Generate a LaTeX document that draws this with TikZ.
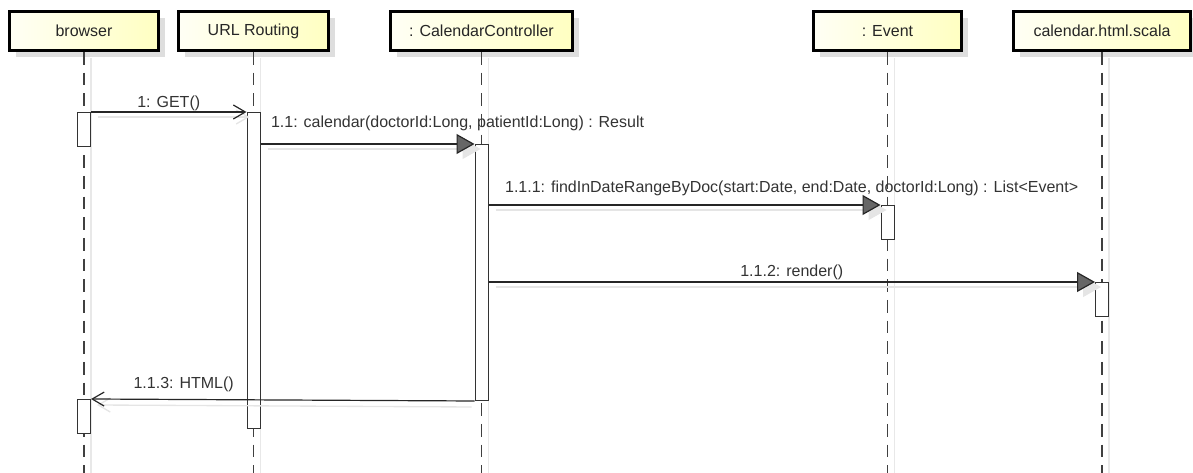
\documentclass[tikz,border=0pt]{standalone}
\usepackage{fontspec}
\setmainfont{Liberation Sans}
\usetikzlibrary{arrows.meta,shadows}

\begin{document}
\begin{tikzpicture}[x=0.75pt,y=-0.75pt,
  head/.style={draw=black, line width=2.25pt, left color=yellow!4, right color=yellow!24,
    minimum height=29.25pt, inner sep=0pt, text=black!85, font=\fontsize{12}{14}\selectfont,
    drop shadow={shadow xshift=4.5pt, shadow yshift=-5.25pt, fill=black!13, opacity=1}},
  lifeline/.style={draw=black!75, line width=1.1pt, dash pattern=on 9.5pt off 6pt},
  lifeshadow/.style={draw=black!9, line width=1pt},
  actbar/.style={draw=black!80, fill=white, line width=0.75pt, minimum width=9.75pt, inner sep=0pt, anchor=north},
  msg/.style={draw=black!85, line width=0.9pt},
  call/.style={msg, -{Triangle[length=13.5pt, width=15pt, fill=black!60]}},
  reply/.style={msg, -{Straight Barb[length=9pt, width=10.5pt]}},
  msgshadow/.style={draw=black!10, line width=1pt},
  msglabel/.style={text=black!80, font=\fontsize{12}{14}\selectfont, inner sep=0pt}]
\useasboundingbox (0,0) rectangle (1193,473);
\coordinate (bottom) at (0,473);

% Lifeline heads
\node[head, minimum width=111.75pt] (browser) at (84,31) {browser};
\node[head, minimum width=112.5pt] (routing) at (253.5,31) {URL Routing};
\node[head, minimum width=136.5pt] (ctrl) at (481.5,31) {: CalendarController};
\node[head, minimum width=111pt] (event) at (887.5,31) {: Event};
\node[head, minimum width=132.75pt] (view) at (1102,31) {calendar.html.scala};

% Lifelines
\foreach \h in {browser,routing,ctrl,event,view} {
  \draw[lifeshadow] ([shift={(7,6)}]\h.south) -- ([xshift=5.25pt]\h.south |- bottom);
  \draw[lifeline] (\h.south) -- (\h.south |- bottom);
}

% Activation bars
\node[actbar, minimum height=25.5pt] (brw1) at (browser.south |- 0,112) {};
\node[actbar, minimum height=237pt] (rt1) at (routing.south |- 0,112) {};
\node[actbar, minimum height=192pt] (cc1) at (ctrl.south |- 0,144) {};
\node[actbar, minimum height=25.5pt] (ev1) at (event.south |- 0,205) {};
\node[actbar, minimum height=25.5pt] (vw1) at (view.south |- 0,282) {};
\node[actbar, minimum height=25.5pt] (brw2) at (browser.south |- 0,399) {};

% Message shadows
\draw[msgshadow, -{Straight Barb[length=9pt, width=10.5pt]}] ([shift={(7,5)}]brw1.north east) -- ([shift={(3,5)}]rt1.north west);
\draw[msgshadow, -{Triangle[length=13.5pt, width=15pt, fill=black!10]}] ([shift={(7,5)}]cc1.north west -| rt1.east) -- ([shift={(6,5)}]cc1.north west);
\draw[msgshadow, -{Triangle[length=13.5pt, width=15pt, fill=black!10]}] ([shift={(7,5)}]ev1.north west -| cc1.east) -- ([shift={(6,5)}]ev1.north west);
\draw[msgshadow, -{Triangle[length=13.5pt, width=15pt, fill=black!10]}] ([shift={(7,5)}]vw1.north west -| cc1.east) -- ([shift={(6,5)}]vw1.north west);
\draw[msgshadow, -{Straight Barb[length=9pt, width=10.5pt]}] ([shift={(-3,6)}]cc1.south west) -- ([shift={(6,6)}]brw2.north east);

% Messages
\draw[reply] (brw1.north east) -- (rt1.north west)
  node[msglabel, midway, anchor=base, yshift=3pt] (m1) {1: GET()};
\draw[call] (cc1.north west -| rt1.east) -- (cc1.north west)
  node[msglabel, pos=0, anchor=base west, xshift=7.5pt, yshift=12pt] (m11) {1.1: calendar(doctorId:Long, patientId:Long) : Result};
\draw[call] (ev1.north west -| cc1.east) -- (ev1.north west)
  node[msglabel, pos=0, anchor=base west, xshift=12pt, yshift=9pt] (m111) {1.1.1: findInDateRangeByDoc(start:Date, end:Date, doctorId:Long) : List<Event>};
\draw[call] (vw1.north west -| cc1.east) -- (vw1.north west)
  node[msglabel, midway, anchor=base, yshift=3.75pt] (m112) {1.1.2: render()};
\draw[reply] (cc1.south west) -- (brw2.north east)
  node[msglabel, pos=1, anchor=base west, xshift=31.5pt, yshift=7.5pt] (m113) {1.1.3: HTML()};
\end{tikzpicture}
\end{document}
